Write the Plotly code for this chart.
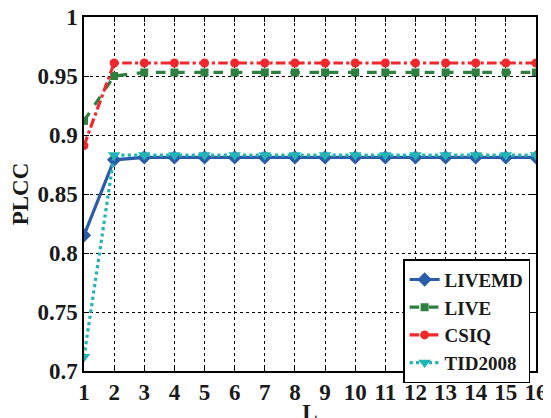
import plotly.graph_objects as go

L = list(range(1, 17))
livemd = [0.815, 0.879] + [0.881] * 14
live = [0.912, 0.950] + [0.953] * 14
csiq = [0.891] + [0.961] * 15
tid2008 = [0.712] + [0.883] * 15
yticks = [0.7, 0.75, 0.8, 0.85, 0.9, 0.95, 1.0]
ytick_labels = ["0.7", "0.75", "0.8", "0.85", "0.9", "0.95", "1"]

series = [
    ("LIVEMD", livemd, "#2a5caa", "solid", "diamond", 11),
    ("LIVE", live, "#2f8040", "dash", "square", 8),
    ("CSIQ", csiq, "#f0282d", "dashdot", "circle", 9),
    ("TID2008", tid2008, "#22b5b5", "dot", "triangle-down", 11),
]

FONT = "Liberation Serif, Times New Roman, serif"
fig = go.Figure()
for name, y, c, dash, sym, ms in series:
    fig.add_trace(go.Scatter(
        x=L, y=y, name=name, mode="lines+markers",
        line=dict(color=c, width=3.2, dash=dash),
        marker=dict(symbol=sym, size=ms, color=c, line=dict(width=0)),
    ))

axis_common = dict(
    showline=True, linecolor="black", linewidth=1.5, mirror="ticks",
    ticks="inside", ticklen=5, tickcolor="black",
    showgrid=True, gridcolor="black", gridwidth=0.7, griddash="dot",
    zeroline=False, automargin=False, ticklabeloverflow="allow",
    tickfont=dict(family=FONT, size=23, color="#1a1a1a", weight="bold"),
)
# page body has an 8px margin, so margins are shifted by 8px
fig.update_layout(
    width=551, height=418,
    margin=dict(l=76, r=23, t=9, b=55, autoexpand=False),
    paper_bgcolor="white", plot_bgcolor="white",
    font=dict(family=FONT, color="#1a1a1a"),
    xaxis=dict(range=[1, 16], tickmode="array", tickvals=L,
               ticktext=[str(v) for v in L],
               title=dict(text="L", font=dict(family=FONT, size=23, weight="bold"), standoff=0),
               **axis_common),
    yaxis=dict(range=[0.7, 1.0], tickmode="array",
               tickvals=yticks, ticktext=ytick_labels,
               title=dict(text="PLCC", font=dict(family=FONT, size=23, weight="bold"), standoff=8),
               **axis_common),
    legend=dict(x=0.706, y=0.316, xanchor="left", yanchor="top",
                bordercolor="black", borderwidth=1.5, bgcolor="white",
                font=dict(family=FONT, size=19, color="#1a1a1a", weight="bold"),
                itemwidth=30, tracegroupgap=0),
    showlegend=True,
)
fig.write_html("out.html")
